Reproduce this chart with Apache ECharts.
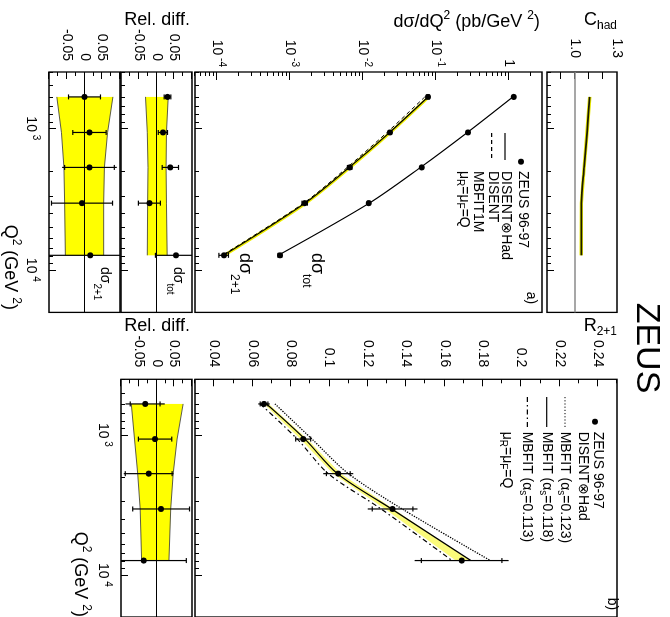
<!DOCTYPE html>
<html><head><meta charset="utf-8">
<script src="https://cdn.jsdelivr.net/npm/echarts@6/dist/echarts.min.js"></script>
<style>
html,body{margin:0;padding:0;background:#fff;overflow:hidden;width:670px;height:617px;}
#wrap{position:absolute;left:0;top:0;width:617px;height:670px;transform-origin:0 0;transform:translate(670px,0) rotate(90deg);}
</style></head>
<body><div id="wrap"></div>
<script>
// ---------------- data ----------------
const Q2 = [600, 1070, 1890, 3380, 7900];                 // GeV^2
const sigTot = [1.17, 0.275, 0.064, 0.0120, 0.00073];     // pb/GeV^2
const sig21 = [0.078, 0.0235, 0.0066, 0.0016, 0.000125];
const thTot = [1.135, 0.270, 0.0616, 0.01224, 0.000692];  // DISENT (x) Had, tot
const th21Had = [0.078, 0.0232, 0.0065, 0.00161, 0.000123];
const th21Parton = [0.0706, 0.0214, 0.0061, 0.00154, 0.000118]; // DISENT
const mb21 = [0.0800, 0.0238, 0.00668, 0.00165, 0.000126];     // MBFIT1M
const cHad = [1.105, 1.086, 1.065, 1.046, 1.045];
const cHadLo = [1.093, 1.074, 1.053, 1.034, 1.033];
const cHadHi = [1.117, 1.098, 1.077, 1.058, 1.057];
const relTot = [0.031, 0.018, 0.039, -0.020, 0.055];
const relTotErr = [0.0094, 0.013, 0.023, 0.031, 0.058];
const relTotBandLo = [-0.031, -0.026, -0.024, -0.025, -0.026];
const relTotBandHi = [0.033, 0.028, 0.027, 0.028, 0.030];
const rel21 = [0.000, 0.014, 0.014, -0.007, 0.016];
const rel21Stat = [0.045, 0.047, 0.070, 0.086, 0.150];
const rel21Tot = [0.045, 0.047, 0.077, 0.086, 0.150];
const rel21BandLo = [-0.078, -0.065, -0.058, -0.056, -0.054];
const rel21BandHi = [0.080, 0.065, 0.056, 0.054, 0.054];
const R21 = [0.066, 0.0864, 0.1047, 0.133, 0.169];
const R21Stat = [0.002, 0.0039, 0.0062, 0.0106, 0.021];
const R21Tot = [0.003, 0.0039, 0.0078, 0.013, 0.0245];
const mbfit123 = [0.0717, 0.0910, 0.1100, 0.1380, 0.1840];
const mbfit118 = [0.0673, 0.0873, 0.1042, 0.1325, 0.1738];
const mbfit113 = [0.0640, 0.0833, 0.0995, 0.1270, 0.1640];
const disHadLo = [0.0660, 0.0850, 0.1020, 0.1290, 0.1660];
const disHadHi = [0.0685, 0.0885, 0.1060, 0.1335, 0.1735];
const relR = [-0.032, -0.004, -0.022, 0.013, -0.036];
const relRStat = [0.042, 0.047, 0.066, 0.080, 0.120];
const relRTot = [0.055, 0.047, 0.070, 0.080, 0.120];
const relRBandLo = [-0.071, -0.062, -0.053, -0.046, -0.042];
const relRBandHi = [0.075, 0.058, 0.047, 0.040, 0.035];

// ---------------- ticks ----------------
const qMajor = [1000, 10000];
const qMinor = [400, 500, 600, 700, 800, 900, 2000, 3000, 4000, 5000, 6000, 7000, 8000, 9000, 20000];
const sMajor = [1e-4, 1e-3, 1e-2, 1e-1, 1];
const sDecades = [1e-5, 1e-4, 1e-3, 1e-2, 1e-1, 1];
const sMult = [2, 3, 4, 5, 6, 7, 8, 9];
const rMajor = [0.04, 0.06, 0.08, 0.10, 0.12, 0.14, 0.16, 0.18, 0.20, 0.22, 0.24];
const rMinor = [0.03, 0.05, 0.07, 0.09, 0.11, 0.13, 0.15, 0.17, 0.19, 0.21, 0.23, 0.25];
const relMajor = [-0.1, -0.05, 0, 0.05, 0.1];
const relLabels = [-0.05, 0, 0.05];
const relMinor = [-0.075, -0.025, 0.025, 0.075];
const chMajor = [0.9, 1.0, 1.1, 1.2];
const chLabels = [1.0, 1.3];

const FONT = '"Liberation Sans", Arial, Helvetica, sans-serif';
const L10 = Math.log10;
const Q_MIN = 400, Q_MAX = 20000, S_MIN = 5e-5, S_MAX = 2.85;
const sMinor = [];
sDecades.forEach(d => sMult.forEach(m => { const v = d * m; if (v >= S_MIN && v <= S_MAX) sMinor.push(v); }));

function rs(size, lh, va) { const o = {fontSize: size, lineHeight: lh, fontFamily: FONT, fill: '#000', color: '#000'}; if (va) o.verticalAlign = va; return o; }
const RICHAX = {b: rs(14, 20), p: rs(10, 10, 'top')};
const RT = {
  t: rs(18, 24), ts: rs(12, 12, 'bottom'), tp: rs(12, 12, 'top'),
  d: rs(18, 34), ds: rs(12, 12, 'bottom'),
  r: rs(14, 26), rsub: rs(10, 10, 'bottom'),
  l: rs(14, 18), ls: rs(10, 10, 'bottom'),
  z: rs(34, 40), a: rs(14, 18)
};

// ---------------- layout (unrotated frame 617 x 670) ----------------
const G = [
  {left: 72, top: 53, width: 240.4, height: 70},     // C_had
  {left: 72, top: 128, width: 240.4, height: 347},   // dsigma/dQ2
  {left: 72, top: 478, width: 240.4, height: 71},    // rel diff tot
  {left: 72, top: 550, width: 240.4, height: 71},    // rel diff 2+1
  {left: 379.3, top: 53, width: 240.4, height: 422}, // R2+1
  {left: 379.3, top: 478, width: 240.4, height: 71}  // rel diff R
];

function tickAxis(dim, g, min, max, ticks, len, lab) {
  return {
    type: 'value', gridIndex: g, min, max, position: dim === 'x' ? 'bottom' : 'left',
    axisLine: {show: false, onZero: false},
    axisTick: {show: true, inside: true, length: len, customValues: ticks, lineStyle: {color: '#000', width: 1}},
    axisLabel: lab ? {show: true, customValues: lab.values, formatter: lab.fmt, margin: lab.margin, color: '#000',
      fontFamily: FONT, fontSize: 14, rich: RICHAX, showMinLabel: true, showMaxLabel: true, hideOverlap: false} : {show: false},
    splitLine: {show: false}, minorTick: {show: false}, minorSplitLine: {show: false}
  };
}
function hiddenLog(g, min, max, pos) {
  return {type: 'log', logBase: 10, gridIndex: g, min, max, position: pos, show: false,
    axisLine: {show: false, onZero: false}, axisTick: {show: false}, axisLabel: {show: false}, splitLine: {show: false}};
}
const relFmt = v => Math.abs(v) < 1e-9 ? '0' : v.toFixed(2);
const rFmt = v => String(+v.toFixed(2));
const pow10Fmt = v => { const n = Math.round(v); return n === 0 ? '{b|1}' : '{b|10}{p| ' + n + '}'; };

const xAxes = [], yAxes = [], xd = [];
for (let g = 0; g < 6; g++) {
  xd[g] = xAxes.length;
  xAxes.push(hiddenLog(g, Q_MIN, Q_MAX, 'bottom'));
  const lab = (g === 3 || g === 5) ? {values: qMajor.map(L10), fmt: pow10Fmt, margin: 8} : null;
  xAxes.push(tickAxis('x', g, L10(Q_MIN), L10(Q_MAX), qMajor.map(L10), 7, lab));
  xAxes.push(tickAxis('x', g, L10(Q_MIN), L10(Q_MAX), qMinor.map(L10), 4, null));
}
function pushY(a) { yAxes.push(a); return yAxes.length - 1; }
const yC = pushY(tickAxis('y', 0, 0.8, 1.3, chMajor, 7, {values: chLabels, fmt: v => v.toFixed(1), margin: 14}));
const yS = pushY(hiddenLog(1, S_MIN, S_MAX, 'left'));
pushY(tickAxis('y', 1, L10(S_MIN), L10(S_MAX), sMajor.map(L10), 8, {values: sMajor.map(L10), fmt: pow10Fmt, margin: 5}));
pushY(tickAxis('y', 1, L10(S_MIN), L10(S_MAX), sMinor.map(L10), 4, null));
const yRT = pushY(tickAxis('y', 2, -0.1, 0.1, relMajor, 7, {values: relLabels, fmt: relFmt, margin: 11}));
pushY(tickAxis('y', 2, -0.1, 0.1, relMinor, 4, null));
const yR21 = pushY(tickAxis('y', 3, -0.1, 0.1, relMajor, 7, {values: relLabels, fmt: relFmt, margin: 11}));
pushY(tickAxis('y', 3, -0.1, 0.1, relMinor, 4, null));
const yR = pushY(tickAxis('y', 4, 0.03, 0.25, rMajor, 7, {values: rMajor, fmt: rFmt, margin: 12}));
pushY(tickAxis('y', 4, 0.03, 0.25, rMinor, 4, null));
const yRR = pushY(tickAxis('y', 5, -0.1, 0.1, relMajor, 7, {values: relLabels, fmt: relFmt, margin: 12}));
pushY(tickAxis('y', 5, -0.1, 0.1, relMinor, 4, null));

// ---------------- series helpers ----------------
function band(xi, yi, lo, hi, color, outline, z) {
  return {
    type: 'custom', xAxisIndex: xi, yAxisIndex: yi, clip: true, z, silent: true,
    data: Q2.map((q, i) => [q, lo[i], hi[i]]),
    encode: {x: 0, y: [1, 2]},
    renderItem(params, api) {
      if (params.dataIndex !== 0) return null;
      const lower = [], upper = [];
      for (let j = 0; j < Q2.length; j++) {
        lower.push(api.coord([api.value(0, j), api.value(1, j)]));
        upper.push(api.coord([api.value(0, j), api.value(2, j)]));
      }
      const ch = [{type: 'polygon', shape: {points: lower.concat(upper.slice().reverse())}, style: {fill: color, stroke: null}}];
      if (outline) {
        ch.push({type: 'polyline', shape: {points: lower}, style: {stroke: '#333', lineWidth: 0.8, fill: 'none'}});
        ch.push({type: 'polyline', shape: {points: upper}, style: {stroke: '#333', lineWidth: 0.8, fill: 'none'}});
      }
      return {type: 'group', children: ch};
    }
  };
}
function curve(xi, yi, ys, style, z) {
  return {type: 'line', xAxisIndex: xi, yAxisIndex: yi, symbol: 'none', silent: true, smooth: 0.3, z,
    data: Q2.map((q, i) => [q, ys[i]]), lineStyle: Object.assign({color: '#000', width: 1.2}, style)};
}
function errSeries(xi, yi, ys, sLo, sHi, tLo, tHi, zeroLine) {
  const s = {
    type: 'custom', xAxisIndex: xi, yAxisIndex: yi, clip: true, z: 10, silent: true,
    data: Q2.map((q, i) => [q, ys[i], sLo[i], sHi[i], tLo[i], tHi[i]]),
    encode: {x: 0, y: 1},
    renderItem(params, api) {
      const q = api.value(0);
      const c = api.coord([q, api.value(1)]);
      const s1 = api.coord([q, api.value(2)]), s2 = api.coord([q, api.value(3)]);
      const t1 = api.coord([q, api.value(4)]), t2 = api.coord([q, api.value(5)]);
      const st = {stroke: '#000', lineWidth: 1.2};
      return {type: 'group', children: [
        {type: 'line', shape: {x1: c[0], y1: t1[1], x2: c[0], y2: t2[1]}, style: st},
        {type: 'line', shape: {x1: c[0] - 2.5, y1: s1[1], x2: c[0] + 2.5, y2: s1[1]}, style: st},
        {type: 'line', shape: {x1: c[0] - 2.5, y1: s2[1], x2: c[0] + 2.5, y2: s2[1]}, style: st},
        {type: 'circle', shape: {cx: c[0], cy: c[1], r: 3}, style: {fill: '#000'}}
      ]};
    }
  };
  if (zeroLine !== undefined) {
    s.markLine = {silent: true, symbol: ['none', 'none'], label: {show: false}, animation: false,
      lineStyle: {color: '#000', width: 1, type: 'solid'}, data: [{yAxis: zeroLine}]};
  }
  return s;
}
const sub = (a, b) => a.map((v, i) => v - b[i]);
const add = (a, b) => a.map((v, i) => v + b[i]);
const scl = (a, r, sgn) => a.map((v, i) => v * (1 + sgn * r[i]));

const series = [];
// C_had
series.push(band(xd[0], yC, cHadLo, cHadHi, '#e6e600', false, 2));
const cl = curve(xd[0], yC, cHad, {width: 1.8, color: '#1a1a00'}, 3);
cl.markLine = {silent: true, symbol: ['none', 'none'], label: {show: false}, animation: false,
  lineStyle: {color: '#8a8a8a', width: 1.5, type: 'solid'}, data: [{yAxis: 1}]};
series.push(cl);
// cross sections
series.push(curve(xd[1], yS, thTot, {}, 3));
series.push(curve(xd[1], yS, mb21, {color: '#eeee00', width: 3}, 2));
series.push(curve(xd[1], yS, th21Parton, {type: [4, 3], width: 1}, 3));
series.push(curve(xd[1], yS, th21Had, {}, 4));
series.push(errSeries(xd[1], yS, sigTot, scl(sigTot, relTotErr, -1), scl(sigTot, relTotErr, 1), scl(sigTot, relTotErr, -1), scl(sigTot, relTotErr, 1)));
series.push(errSeries(xd[1], yS, sig21, scl(sig21, rel21Stat, -1), scl(sig21, rel21Stat, 1), scl(sig21, rel21Tot, -1), scl(sig21, rel21Tot, 1)));
// rel diff tot
series.push(band(xd[2], yRT, relTotBandLo, relTotBandHi, '#ffff00', true, 2));
series.push(errSeries(xd[2], yRT, relTot, sub(relTot, relTotErr), add(relTot, relTotErr), sub(relTot, relTotErr), add(relTot, relTotErr), 0));
// rel diff 2+1
series.push(band(xd[3], yR21, rel21BandLo, rel21BandHi, '#ffff00', true, 2));
series.push(errSeries(xd[3], yR21, rel21, sub(rel21, rel21Stat), add(rel21, rel21Stat), sub(rel21, rel21Tot), add(rel21, rel21Tot), 0));
// R2+1
series.push(band(xd[4], yR, disHadLo, disHadHi, '#fbfb7a', false, 2));
series.push(curve(xd[4], yR, mbfit123, {type: 'dotted', width: 1.3}, 3));
series.push(curve(xd[4], yR, mbfit118, {width: 1.3}, 3));
series.push(curve(xd[4], yR, mbfit113, {type: [5, 3, 1.5, 3], width: 1.2}, 3));
series.push(errSeries(xd[4], yR, R21, sub(R21, R21Stat), add(R21, R21Stat), sub(R21, R21Tot), add(R21, R21Tot)));
// rel diff R
series.push(band(xd[5], yRR, relRBandLo, relRBandHi, '#ffff00', true, 2));
series.push(errSeries(xd[5], yRR, relR, sub(relR, relRStat), add(relR, relRStat), sub(relR, relRTot), add(relR, relRTot), 0));

// ---------------- texts and legend symbols ----------------
const gfx = [];
const ROT = Math.PI / 2;
function T(x, y, text, align, rot) {
  const el = {type: 'text', x, y, silent: true, z: 100,
    style: {text, rich: RT, fontFamily: FONT, fontSize: 14, fill: '#000', align, textAlign: align, verticalAlign: 'middle', textVerticalAlign: 'middle'}};
  if (rot) el.rotation = rot;
  gfx.push(el);
}
function Ln(x1, y1, x2, y2, dash) {
  const st = {stroke: '#000', lineWidth: 1.2};
  if (dash) st.lineDash = dash;
  gfx.push({type: 'line', silent: true, z: 100, shape: {x1, y1, x2, y2}, style: st});
}
function Dot(cx, cy) { gfx.push({type: 'circle', silent: true, z: 100, shape: {cx, cy, r: 3}, style: {fill: '#000'}}); }

T(348, 24, '{z|ZEUS}', 'center');
T(20, 53, '{t|C}{ts|had}', 'right', ROT);
T(22, 130, '{t|dσ/dQ}{tp|2}{t| (pb/GeV }{tp|2}{t|)}', 'right', ROT);
T(20, 480, '{t|Rel. diff.}', 'right', ROT);
T(326.5, 480, '{t|Rel. diff.}', 'right', ROT);
T(326, 53, '{t|R}{ts|2+1}', 'right', ROT);
T(310, 660, '{t|Q}{tp|2}{t| (GeV }{tp|2}{t|)}', 'right');
T(617, 590, '{t|Q}{tp|2}{t| (GeV }{tp|2}{t|)}', 'right');
T(298, 139, '{a|a)}', 'center');
T(604, 58, '{a|b)}', 'center');
T(253, 353, '{d|dσ}{ds|tot}', 'left');
T(253, 425, '{d|dσ}{ds|2+1}', 'left');
T(267, 492.5, '{r|dσ}{rsub|tot}', 'left');
T(267, 565, '{r|dσ}{rsub|2+1}', 'left');
// legend a)
Dot(161.7, 149);
T(171, 147.5, '{l|ZEUS 96-97}', 'left');
T(171, 164, '{l|DISENT⊗Had}', 'left');
T(171, 177.5, '{l|DISENT}', 'left');
T(171, 192.5, '{l|MBFIT1M}', 'left');
T(171, 206, '{l|μ}{ls|R}{l|=μ}{ls|F}{l|=Q}', 'left');
Ln(133, 165, 160, 165);
Ln(133, 178.3, 160, 178.3, [4, 3]);
// legend b)
Dot(421.7, 75);
T(431.7, 72.5, '{l|ZEUS 96-97}', 'left');
T(431.7, 86.7, '{l|DISENT⊗Had}', 'left');
T(431.7, 105, '{l|MBFIT (α}{ls|s}{l|=0.123)}', 'left');
T(431.7, 123.3, '{l|MBFIT (α}{ls|s}{l|=0.118)}', 'left');
T(431.7, 143.3, '{l|MBFIT (α}{ls|s}{l|=0.113)}', 'left');
T(431.7, 163, '{l|μ}{ls|R}{l|=μ}{ls|F}{l|=Q}', 'left');
Ln(397, 105, 427, 105, [1.2, 2]);
Ln(397, 123.3, 427, 123.3);
Ln(397, 142.7, 427, 142.7, [5, 3, 1.5, 3]);

const chart = echarts.init(document.getElementById('wrap'), null, {width: 617, height: 670});
chart.setOption({
  animation: false,
  backgroundColor: '#fff',
  grid: G.map(g => Object.assign({show: true, borderColor: '#000', borderWidth: 1.3, backgroundColor: 'transparent', containLabel: false}, g)),
  xAxis: xAxes,
  yAxis: yAxes,
  series,
  graphic: {elements: gfx}
});
</script>
</body></html>
